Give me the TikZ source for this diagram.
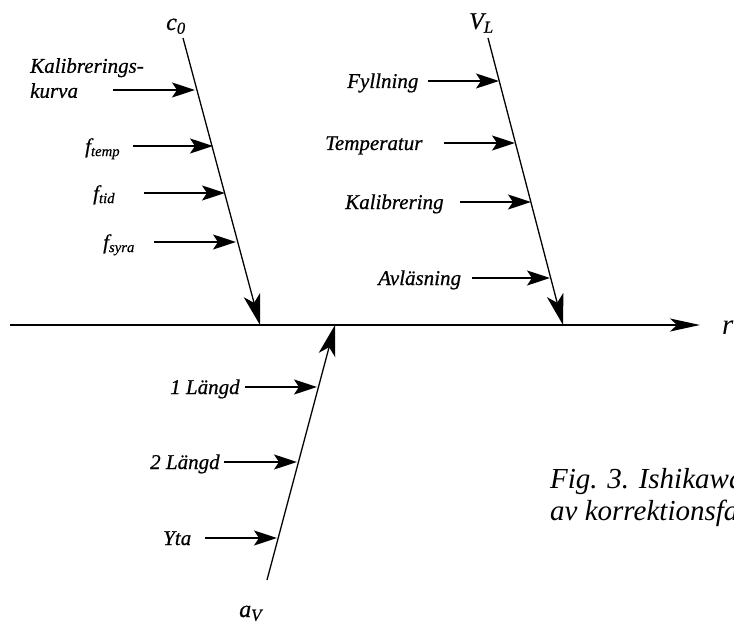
\documentclass[tikz,border=0pt]{standalone}
\usepackage{fontspec}
\setmainfont{Liberation Serif}
\newfontfamily\heavyserif{Liberation Serif}[FakeBold=0.6]
\usetikzlibrary{arrows.meta}

\begin{document}
\begin{tikzpicture}[x=1pt,y=-1pt,
  lbl/.style={font=\heavyserif\fontsize{21}{25}\selectfont\itshape, inner sep=0pt},
  bonelbl/.style={font=\heavyserif\fontsize{24}{28}\selectfont\itshape, inner sep=0pt},
  figcaption/.style={font=\fontsize{29}{34}\selectfont\itshape, inner sep=0pt},
  spine/.style={line width=1.6pt, -{Stealth[length=30pt,width=13pt,inset=7pt]}},
  bone/.style={line width=1.3pt, -{Stealth[length=31pt,width=17pt,inset=8pt]}},
  cause/.style={line width=1.9pt, -{Stealth[length=23pt,width=15pt,inset=5pt]}},
]
\useasboundingbox (0,0) rectangle (734,623);
\clip (0,0) rectangle (734,623);

% main spine
\coordinate (s0) at (10,325);
\coordinate (s1) at (700,325);
\draw[spine] (s0) -- (s1);
\node[figcaption, anchor=base west] (r) at (722,334) {r};

% bone c0
\coordinate (c0top) at (183,38);
\coordinate (c0end) at (260,325);
\node[bonelbl, anchor=base west] (c0) at (166,30) {c\textsubscript{0}};
\draw[bone] (c0top) -- (c0end);

\node[lbl, anchor=north west, align=left] (kk) at (30,58) {Kalibrerings-\\kurva};
\coordinate (kka) at (113,90);  \coordinate (kkb) at (195,90);
\draw[cause] (kka) -- (kkb);

\node[lbl, anchor=base west] (ft) at (85,153) {f\textsubscript{temp}};
\coordinate (fta) at (133,146); \coordinate (ftb) at (213,146);
\draw[cause] (fta) -- (ftb);

\node[lbl, anchor=base west] (fd) at (93,200) {f\textsubscript{tid}};
\coordinate (fda) at (144,193); \coordinate (fdb) at (225,193);
\draw[cause] (fda) -- (fdb);

\node[lbl, anchor=base west] (fs) at (103,249) {f\textsubscript{syra}};
\coordinate (fsa) at (154,242); \coordinate (fsb) at (236,242);
\draw[cause] (fsa) -- (fsb);

% bone V_L
\coordinate (vltop) at (488,38);
\coordinate (vlend) at (563,325);
\node[bonelbl, anchor=base west] (vl) at (469,29) {V\textsubscript{L}};
\draw[bone] (vltop) -- (vlend);

\node[lbl, anchor=base west] (fy) at (347,88) {Fyllning};
\coordinate (fya) at (428,81); \coordinate (fyb) at (499,81);
\draw[cause] (fya) -- (fyb);

\node[lbl, anchor=base west] (te) at (325,150) {Temperatur};
\coordinate (tea) at (444,143); \coordinate (teb) at (515,143);
\draw[cause] (tea) -- (teb);

\node[lbl, anchor=base west] (ka) at (345,209) {Kalibrering};
\coordinate (kaa) at (460,202); \coordinate (kab) at (531,202);
\draw[cause] (kaa) -- (kab);

\node[lbl, anchor=base west] (av) at (378,285) {Avläsning};
\coordinate (ava) at (472,278); \coordinate (avb) at (550,278);
\draw[cause] (ava) -- (avb);

% bone a_V
\coordinate (avbot) at (267,580);
\coordinate (avend) at (335,325);
\node[bonelbl, anchor=base west] (aV) at (239,617) {a\textsubscript{V}};
\draw[bone] (avbot) -- (avend);

\node[lbl, anchor=base west] (l1) at (170,394) {1 Längd};
\coordinate (l1a) at (245,387); \coordinate (l1b) at (317,387);
\draw[cause] (l1a) -- (l1b);

\node[lbl, anchor=base west] (l2) at (150,469) {2 Längd};
\coordinate (l2a) at (224,462); \coordinate (l2b) at (297,462);
\draw[cause] (l2a) -- (l2b);

\node[lbl, anchor=base west] (yt) at (163,545) {Yta};
\coordinate (yta) at (205,538); \coordinate (ytb) at (277,538);
\draw[cause] (yta) -- (ytb);

% caption, running past the right edge
\node[figcaption, anchor=base west] (cap1) at (550,488) {Fig. 3. Ishikawa};
\node[figcaption, anchor=base west] (cap2) at (550,520) {av korrektionsfa};
\end{tikzpicture}
\end{document}
